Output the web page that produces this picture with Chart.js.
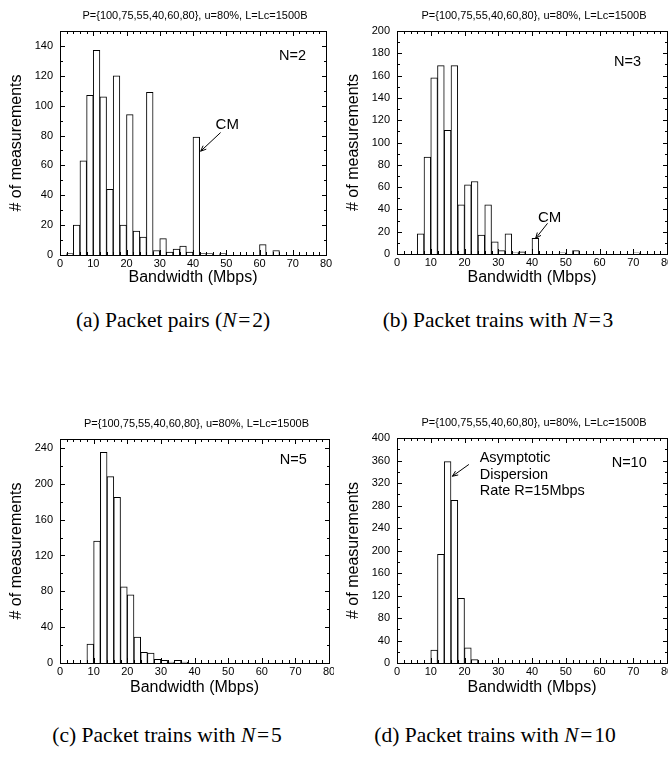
<!DOCTYPE html>
<html>
<head>
<meta charset="utf-8">
<script src="https://cdn.jsdelivr.net/npm/chart.js@4"></script>
<style>
  body { margin: 0; width: 668px; height: 766px; overflow: hidden; background: #fff; position: relative; }
  canvas { position: absolute; }
  .cap {
    position: absolute; white-space: nowrap; transform: translate(-50%, -50%);
    font-family: "Liberation Serif", "Times New Roman", serif; font-size: 21.5px; color: #000;
  }
</style>
</head>
<body>
<canvas id="chartA" width="334" height="300" style="left:0;top:0"></canvas>
<canvas id="chartB" width="334" height="300" style="left:334px;top:0"></canvas>
<canvas id="chartC" width="334" height="300" style="left:0;top:400px"></canvas>
<canvas id="chartD" width="334" height="300" style="left:334px;top:400px"></canvas>

<div class="cap" style="left:173px;top:320px">(a) Packet pairs (<i>N</i>&#8202;=&#8202;2)</div>
<div class="cap" style="left:498px;top:320px">(b) Packet trains with <i>N</i>&#8202;=&#8202;3</div>
<div class="cap" style="left:167px;top:735px">(c) Packet trains with <i>N</i>&#8202;=&#8202;5</div>
<div class="cap" style="left:495px;top:735px">(d) Packet trains with <i>N</i>&#8202;=&#8202;10</div>

<script>
// histogram bin centres (2 Mbps bins from 0 to 80)
const binCenters = [1, 3, 5, 7, 9, 11, 13, 15, 17, 19, 21, 23, 25, 27, 29, 31, 33, 35, 37, 39,
                    41, 43, 45, 47, 49, 51, 53, 55, 57, 59, 61, 63, 65, 67, 69, 71, 73, 75, 77, 79];

const countsN2  = [0, 1, 20, 63, 107, 137, 106, 44, 120, 20, 94, 16, 12, 109, 3, 11, 2, 4, 6, 2,
                   79, 1, 1, 0, 1, 0, 0, 0, 0, 0, 7, 0, 3, 0, 0, 0, 0, 0, 0, 0];
const countsN3  = [0, 0, 0, 18, 87, 158, 169, 111, 169, 44, 62, 65, 17, 44, 11, 3, 18, 1, 2, 0,
                   14, 0, 0, 0, 1, 0, 3, 0, 0, 0, 0, 0, 0, 0, 0, 1, 0, 0, 0, 0];
const countsN5  = [0, 0, 0, 0, 21, 136, 235, 208, 185, 85, 76, 29, 12, 11, 4, 3, 1, 3, 1, 0,
                   0, 0, 0, 0, 0, 0, 0, 0, 0, 0, 0, 0, 0, 0, 0, 0, 0, 0, 0, 0];
const countsN10 = [0, 0, 0, 0, 0, 23, 193, 358, 289, 115, 27, 6, 0, 0, 0, 0, 0, 0, 0, 0,
                   0, 0, 0, 0, 0, 0, 0, 0, 0, 0, 0, 0, 0, 0, 0, 0, 0, 0, 0, 0];

const plotTitle = 'P={100,75,55,40,60,80}, u=80%, L=Lc=1500B';
const xLabel = 'Bandwidth (Mbps)';
const yLabel = '# of measurements';

Chart.defaults.font.family = '"Liberation Sans", Arial, Helvetica, sans-serif';
Chart.defaults.color = '#000';

// frame, inward ticks, title and annotations
const decor = {
  id: 'decor',
  afterDraw(chart, args, opts) {
    const { ctx, chartArea: a, scales: { x, y } } = chart;
    ctx.save();
    ctx.fillStyle = '#000';
    ctx.strokeStyle = '#000';
    ctx.lineWidth = 1;
    ctx.setLineDash([]);

    const L = Math.round(a.left), R = Math.round(a.right);
    const T = Math.round(a.top), B = Math.round(a.bottom);
    // box round the plot
    ctx.fillRect(L, T, R - L + 1, 1);
    ctx.fillRect(L, B, R - L + 1, 1);
    ctx.fillRect(L, T, 1, B - T + 1);
    ctx.fillRect(R, T, 1, B - T + 1);

    // ticks pointing inwards
    for (let v = 0; v <= 80; v += 2) {
      const px = Math.round(x.getPixelForValue(v));
      const len = v % 10 === 0 ? 5 : 3;
      ctx.fillRect(px, B - len, 1, len);
      ctx.fillRect(px, T, 1, len);
    }
    for (let v = 0; v <= y.max; v += opts.yMinor) {
      const py = Math.round(y.getPixelForValue(v));
      const len = v % opts.yStep === 0 ? 5 : 3;
      ctx.fillRect(L, py, len, 1);
      ctx.fillRect(R - len + 1, py, len, 1);
    }

    ctx.font = '11px "Liberation Sans", Arial, sans-serif';
    ctx.textAlign = 'center';
    ctx.textBaseline = 'middle';
    ctx.fillText(plotTitle, (a.left + a.right) / 2 + 2, a.top - 15);

    (opts.notes || []).forEach(n => {
      ctx.font = n.size + 'px "Liberation Sans", Arial, sans-serif';
      ctx.textAlign = n.align || 'left';
      ctx.fillText(n.text, x.getPixelForValue(n.x), y.getPixelForValue(n.y));
    });

    const line = (x0, y0, x1, y1) => {
      ctx.beginPath(); ctx.moveTo(x0, y0); ctx.lineTo(x1, y1); ctx.stroke();
    };
    (opts.arrows || []).forEach(r => {
      const x1 = x.getPixelForValue(r.x1), y1 = y.getPixelForValue(r.y1);
      const x2 = x.getPixelForValue(r.x2), y2 = y.getPixelForValue(r.y2);
      line(x1, y1, x2, y2);
      const ang = Math.atan2(y2 - y1, x2 - x1);
      const h = 6;
      line(x2, y2, x2 - h * Math.cos(ang - 0.4), y2 - h * Math.sin(ang - 0.4));
      line(x2, y2, x2 - h * Math.cos(ang + 0.4), y2 - h * Math.sin(ang + 0.4));
    });
    ctx.restore();
  }
};

function makeChart(id, counts, p) {
  return new Chart(document.getElementById(id), {
    type: 'bar',
    data: {
      datasets: [{
        data: binCenters.map((b, i) => ({ x: b, y: counts[i] })),
        backgroundColor: '#fff',
        borderColor: '#000',
        borderWidth: 1,
        borderSkipped: 'start',
        barPercentage: 1,
        categoryPercentage: 1
      }]
    },
    options: {
      responsive: false,
      animation: false,
      events: [],
      layout: { padding: { left: 0, top: p.top, right: p.right, bottom: 0 } },
      plugins: {
        legend: { display: false },
        tooltip: { enabled: false },
        decor: { yStep: p.yStep, yMinor: p.yStep / 2, notes: p.notes, arrows: p.arrows }
      },
      scales: {
        x: {
          type: 'linear', min: 0, max: 80, offset: false,
          grid: { display: false, drawTicks: false, offset: false }, border: { display: false },
          ticks: { stepSize: 10, padding: 2, font: { size: 11 }, maxRotation: 0, autoSkip: false },
          title: { display: true, text: xLabel, font: { size: 16 }, padding: { top: 0, bottom: p.xTitlePad } },
          afterFit: s => { s.height = p.xH; s.paddingLeft = 0; s.paddingRight = 0; }
        },
        y: {
          min: 0, max: p.yMax,
          grid: { display: false, drawTicks: false }, border: { display: false },
          ticks: { stepSize: p.yStep, padding: 7, includeBounds: false, font: { size: 11 } },
          title: { display: true, text: yLabel, font: { size: 16 }, padding: { top: p.yTitlePad, bottom: 0 } },
          afterFit: s => { s.width = p.yW; s.paddingTop = 0; s.paddingBottom = 0; }
        }
      }
    },
    plugins: [decor]
  });
}

makeChart('chartA', countsN2, {
  top: 31, right: 8, xH: 45, yW: 60, xTitlePad: 13, yTitlePad: 7,
  yMax: 150, yStep: 20,
  notes: [{ x: 74, y: 133, text: 'N=2', align: 'right', size: 14.5 },
          { x: 50.3, y: 87, text: 'CM', align: 'center', size: 15 }],
  arrows: [{ x1: 48.3, y1: 82, x2: 42.3, y2: 69.5 }]
});

makeChart('chartB', countsN3, {
  top: 31, right: 1, xH: 46, yW: 63, xTitlePad: 13, yTitlePad: 10,
  yMax: 200, yStep: 20,
  notes: [{ x: 72.3, y: 172, text: 'N=3', align: 'right', size: 14.5 },
          { x: 45.2, y: 32.7, text: 'CM', align: 'center', size: 15 }],
  arrows: [{ x1: 44.6, y1: 27.5, x2: 41.1, y2: 14.1 }]
});

makeChart('chartC', countsN5, {
  top: 39, right: 5, xH: 37, yW: 60, xTitlePad: 3, yTitlePad: 7,
  yMax: 250, yStep: 40,
  notes: [{ x: 73.4, y: 227, text: 'N=5', align: 'right', size: 14.5 }],
  arrows: []
});

makeChart('chartD', countsN10, {
  top: 38, right: 1, xH: 37, yW: 63, xTitlePad: 3, yTitlePad: 10,
  yMax: 400, yStep: 40,
  notes: [{ x: 74, y: 355.6, text: 'N=10', align: 'right', size: 14.5 },
          { x: 24.5, y: 364, text: 'Asymptotic', align: 'left', size: 14.5 },
          { x: 24.5, y: 334, text: 'Dispersion', align: 'left', size: 14.5 },
          { x: 24.5, y: 305, text: 'Rate R=15Mbps', align: 'left', size: 14.5 }],
  arrows: [{ x1: 21.3, y1: 353, x2: 16.4, y2: 332 }]
});
</script>
</body>
</html>
